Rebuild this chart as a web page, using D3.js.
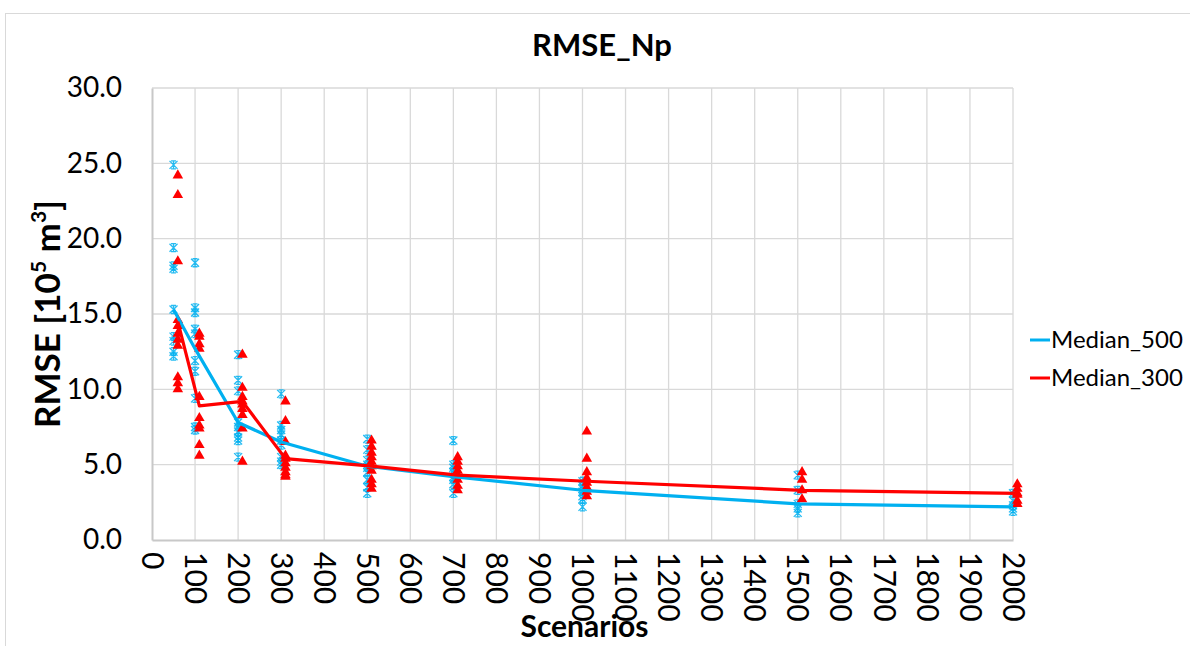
<!DOCTYPE html>
<html>
<head>
<meta charset="utf-8">
<script src="https://cdn.jsdelivr.net/npm/d3@7"></script>
<style>
  html, body { margin: 0; padding: 0; background: #fff; }
  svg { display: block; font-family: Lato, "Open Sans", sans-serif; }
</style>
</head>
<body>
<svg id="chart" width="1190" height="646"></svg>
<script>
// Scenario counts (x) for each group of runs
const scenarios500 = [50, 100, 200, 300, 500, 700, 1000, 1500, 2000];
const scenarios300 = [60, 110, 210, 310, 510, 710, 1010, 1510, 2010];

// Individual RMSE values per scenario count
const rmse500 = [
  [24.9, 19.4, 18.2, 18.0, 15.3, 13.5, 13.2, 12.5, 12.2],
  [18.4, 15.4, 15.1, 14.0, 13.7, 11.9, 11.2, 9.4, 7.5, 7.3],
  [12.3, 10.6, 9.9, 7.8, 7.5, 7.2, 6.8, 6.6, 5.5],
  [9.7, 7.6, 7.3, 7.0, 6.6, 6.3, 5.5, 5.2, 5.0],
  [6.7, 6.0, 5.3, 5.0, 4.8, 4.5, 4.0, 3.5, 3.1],
  [6.6, 5.0, 4.8, 4.5, 4.2, 4.0, 3.7, 3.1],
  [3.9, 3.6, 3.4, 3.2, 2.9, 2.7, 2.2],
  [4.3, 3.3, 2.4, 2.1, 1.8],
  [3.1, 2.6, 2.3, 2.1, 1.9]
];
const rmse300 = [
  [24.2, 22.9, 18.5, 14.6, 14.2, 13.7, 13.3, 12.9, 10.8, 10.4, 10.0],
  [13.7, 13.5, 13.0, 12.7, 9.5, 8.1, 7.6, 7.4, 6.3, 5.6],
  [12.3, 10.1, 9.5, 9.2, 9.0, 8.7, 8.3, 7.4, 5.2],
  [9.2, 7.9, 6.5, 5.6, 5.4, 5.1, 4.8, 4.5, 4.3, 4.2],
  [6.6, 6.2, 5.8, 5.5, 5.2, 4.9, 4.6, 4.0, 3.7, 3.4],
  [5.5, 5.2, 4.9, 4.6, 4.3, 4.0, 3.6, 3.3],
  [7.2, 5.4, 4.5, 4.1, 3.8, 3.5, 3.2, 2.9],
  [4.5, 4.0, 3.3, 2.7],
  [3.7, 3.4, 3.1, 3.0, 2.6, 2.4]
];

// Median lines
const median500 = [15.3, 12.7, 7.8, 6.5, 4.9, 4.2, 3.3, 2.4, 2.2];
const median300 = [14.5, 8.9, 9.2, 5.4, 4.9, 4.3, 3.9, 3.3, 3.1];

const xTicks = d3.range(0, 2001, 100);
const yTicks = [0, 5, 10, 15, 20, 25, 30];

const seriesNames = ["Median_500", "Median_300"];
const colors = ["#00B0F0", "#FF0000"];

const svg = d3.select("#chart");
const plot = { left: 152, right: 1013, top: 88, bottom: 540 };

const x = d3.scaleLinear().domain([0, 2000]).range([plot.left, plot.right]);
const y = d3.scaleLinear().domain([0, 30]).range([plot.bottom, plot.top]);

// Chart frame
svg.append("rect")
  .attr("x", 5.5).attr("y", 13.5)
  .attr("width", 1200).attr("height", 700)
  .attr("fill", "#fff").attr("stroke", "#d9d9d9").attr("stroke-width", 1);

// Title
svg.append("text")
  .attr("x", 602).attr("y", 56)
  .attr("text-anchor", "middle")
  .attr("font-size", 31).attr("font-weight", "bold")
  .attr("fill", "#000")
  .text("RMSE_Np");

// Gridlines
svg.append("g")
  .selectAll("line")
  .data(xTicks.filter(d => d > 0))
  .join("line")
  .attr("x1", d => x(d)).attr("x2", d => x(d))
  .attr("y1", plot.top).attr("y2", plot.bottom)
  .attr("stroke", "#d9d9d9").attr("stroke-width", 1.3);

svg.append("g")
  .selectAll("line")
  .data(yTicks.filter(d => d > 0))
  .join("line")
  .attr("x1", plot.left).attr("x2", plot.right)
  .attr("y1", d => y(d)).attr("y2", d => y(d))
  .attr("stroke", "#d9d9d9").attr("stroke-width", 1.3);

// Axes
const yAxis = d3.axisLeft(y).tickValues(yTicks).tickFormat(d3.format(".1f")).tickSize(0).tickPadding(30);
const gy = svg.append("g").attr("transform", `translate(${plot.left},0)`).call(yAxis);
gy.select(".domain").attr("stroke", "#c8c8c8").attr("stroke-width", 2);
gy.selectAll("text").attr("font-size", 28).attr("fill", "#000")
  .attr("font-family", "Lato, 'Open Sans', sans-serif");

const xAxis = d3.axisBottom(x).tickValues(xTicks).tickFormat(d3.format("d")).tickSize(0);
const gx = svg.append("g").attr("transform", `translate(0,${plot.bottom})`).call(xAxis);
gx.select(".domain").attr("stroke", "#c8c8c8").attr("stroke-width", 2);
gx.selectAll("text")
  .attr("font-size", 30).attr("fill", "#000")
  .attr("font-family", "Lato, 'Open Sans', sans-serif")
  .attr("text-anchor", "start")
  .attr("transform", "rotate(90)")
  .attr("x", 12).attr("y", 0).attr("dy", "0.36em");

// Axis titles
svg.append("text")
  .attr("transform", `translate(60,${(plot.top + plot.bottom) / 2}) rotate(-90)`)
  .attr("text-anchor", "middle")
  .attr("font-size", 35).attr("font-weight", "bold").attr("fill", "#000")
  .call(t => {
    t.append("tspan").text("RMSE [10");
    t.append("tspan").attr("font-size", 21).attr("dy", -14).text("5");
    t.append("tspan").attr("dy", 14).text(" m");
    t.append("tspan").attr("font-size", 21).attr("dy", -14).text("3");
    t.append("tspan").attr("dy", 14).text("]");
  });

svg.append("text")
  .attr("x", (plot.left + plot.right) / 2 + 2).attr("y", 637)
  .attr("text-anchor", "middle")
  .attr("font-size", 30).attr("font-weight", "bold").attr("fill", "#000")
  .text("Scenarios");

// Scatter points
const pts500 = scenarios500.flatMap((s, i) => rmse500[i].map(v => ({ s, v })));
const pts300 = scenarios300.flatMap((s, i) => rmse300[i].map(v => ({ s, v })));

const star = "M-4,-4L4,4M-4,4L4,-4M0,-4L0,4M-2.5,-4L2.5,-4M-2.5,4L2.5,4";
svg.append("g")
  .selectAll("path")
  .data(pts500)
  .join("path")
  .attr("transform", d => `translate(${x(d.s)},${y(d.v)})`)
  .attr("d", star)
  .attr("fill", "none")
  .attr("stroke", colors[0]).attr("stroke-width", 1.3).attr("opacity", 0.85);

const tri = d3.symbol().type(d3.symbolTriangle).size(48);
svg.append("g")
  .selectAll("path")
  .data(pts300)
  .join("path")
  .attr("transform", d => `translate(${x(d.s)},${y(d.v)})`)
  .attr("d", tri)
  .attr("fill", colors[1]);

// Median lines
const line = d3.line().x(d => x(d[0])).y(d => y(d[1]));
svg.append("path")
  .datum(scenarios500.map((s, i) => [s, median500[i]]))
  .attr("d", line)
  .attr("fill", "none").attr("stroke", colors[0]).attr("stroke-width", 3.2)
  .attr("stroke-linejoin", "round");
svg.append("path")
  .datum(scenarios300.map((s, i) => [s, median300[i]]))
  .attr("d", line)
  .attr("fill", "none").attr("stroke", colors[1]).attr("stroke-width", 3.2)
  .attr("stroke-linejoin", "round");

// Legend
const legend = svg.append("g").attr("transform", "translate(1030,340)");
seriesNames.forEach((name, i) => {
  const g = legend.append("g").attr("transform", `translate(0,${i * 38})`);
  g.append("line").attr("x1", 0).attr("x2", 20).attr("y1", 0).attr("y2", 0)
    .attr("stroke", colors[i]).attr("stroke-width", 3);
  g.append("text").attr("x", 21).attr("y", 0).attr("dy", "0.35em")
    .attr("font-size", 24).attr("fill", "#000").text(name);
});
</script>
</body>
</html>
